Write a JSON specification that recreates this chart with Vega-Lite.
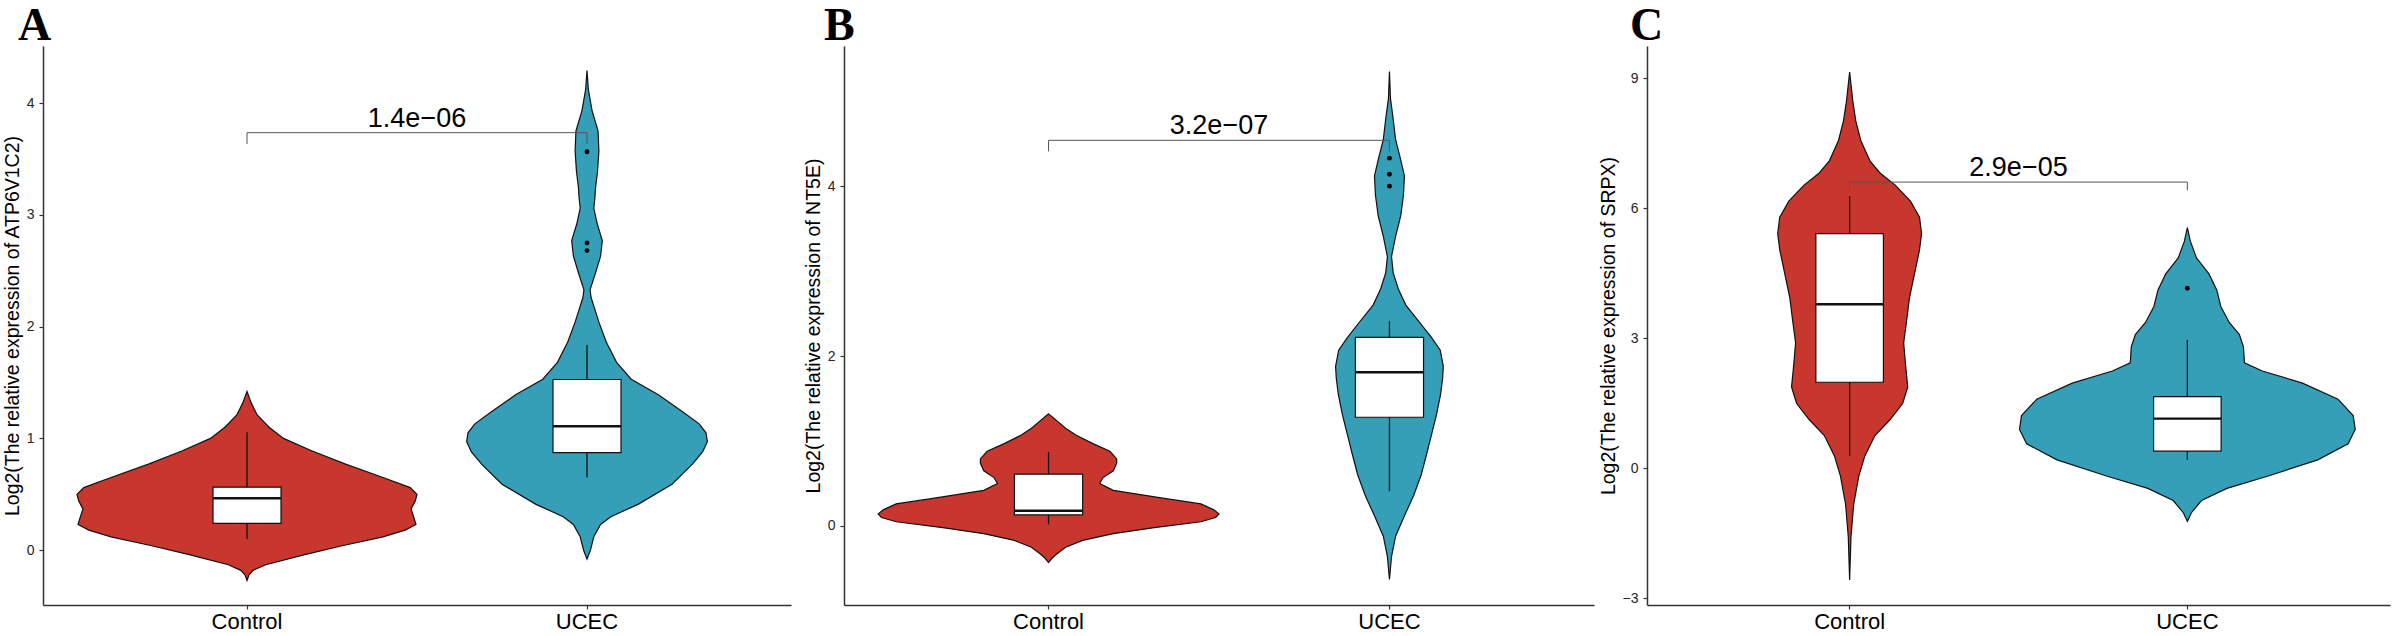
{
 "$schema": "https://vega.github.io/schema/vega-lite/v6.json",
 "padding": {"left": 2, "top": 3, "right": 2, "bottom": 0},
 "background": "white",
 "bounds": "flush",
 "spacing": 53,
 "datasets": {
  "violin": [
   {"panel":"A","group":"Control","y":-0.27,"w":0},
   {"panel":"A","group":"Control","y":-0.22,"w":0.012},
   {"panel":"A","group":"Control","y":-0.18,"w":0.036},
   {"panel":"A","group":"Control","y":-0.13,"w":0.11},
   {"panel":"A","group":"Control","y":-0.04,"w":0.34},
   {"panel":"A","group":"Control","y":0.04,"w":0.56},
   {"panel":"A","group":"Control","y":0.12,"w":0.8},
   {"panel":"A","group":"Control","y":0.18,"w":0.93},
   {"panel":"A","group":"Control","y":0.23,"w":0.994},
   {"panel":"A","group":"Control","y":0.3,"w":0.98},
   {"panel":"A","group":"Control","y":0.37,"w":0.965},
   {"panel":"A","group":"Control","y":0.44,"w":0.99},
   {"panel":"A","group":"Control","y":0.5,"w":1.0},
   {"panel":"A","group":"Control","y":0.56,"w":0.96},
   {"panel":"A","group":"Control","y":0.65,"w":0.8},
   {"panel":"A","group":"Control","y":0.77,"w":0.58},
   {"panel":"A","group":"Control","y":0.89,"w":0.38},
   {"panel":"A","group":"Control","y":1.0,"w":0.215},
   {"panel":"A","group":"Control","y":1.1,"w":0.13},
   {"panel":"A","group":"Control","y":1.21,"w":0.06},
   {"panel":"A","group":"Control","y":1.32,"w":0.024},
   {"panel":"A","group":"Control","y":1.42,"w":0},
   {"panel":"A","group":"UCEC","y":-0.08,"w":0},
   {"panel":"A","group":"UCEC","y":0.0,"w":0.02},
   {"panel":"A","group":"UCEC","y":0.12,"w":0.04},
   {"panel":"A","group":"UCEC","y":0.23,"w":0.08},
   {"panel":"A","group":"UCEC","y":0.3,"w":0.14},
   {"panel":"A","group":"UCEC","y":0.41,"w":0.3},
   {"panel":"A","group":"UCEC","y":0.59,"w":0.5},
   {"panel":"A","group":"UCEC","y":0.77,"w":0.62},
   {"panel":"A","group":"UCEC","y":0.88,"w":0.68},
   {"panel":"A","group":"UCEC","y":0.97,"w":0.708},
   {"panel":"A","group":"UCEC","y":1.05,"w":0.7},
   {"panel":"A","group":"UCEC","y":1.13,"w":0.66},
   {"panel":"A","group":"UCEC","y":1.24,"w":0.56},
   {"panel":"A","group":"UCEC","y":1.39,"w":0.42},
   {"panel":"A","group":"UCEC","y":1.53,"w":0.26},
   {"panel":"A","group":"UCEC","y":1.68,"w":0.174},
   {"panel":"A","group":"UCEC","y":1.86,"w":0.114},
   {"panel":"A","group":"UCEC","y":2.04,"w":0.07},
   {"panel":"A","group":"UCEC","y":2.26,"w":0.024},
   {"panel":"A","group":"UCEC","y":2.33,"w":0.018},
   {"panel":"A","group":"UCEC","y":2.48,"w":0.05},
   {"panel":"A","group":"UCEC","y":2.63,"w":0.08},
   {"panel":"A","group":"UCEC","y":2.77,"w":0.09},
   {"panel":"A","group":"UCEC","y":2.92,"w":0.06},
   {"panel":"A","group":"UCEC","y":3.06,"w":0.04},
   {"panel":"A","group":"UCEC","y":3.16,"w":0.047},
   {"panel":"A","group":"UCEC","y":3.24,"w":0.05},
   {"panel":"A","group":"UCEC","y":3.39,"w":0.062},
   {"panel":"A","group":"UCEC","y":3.57,"w":0.07},
   {"panel":"A","group":"UCEC","y":3.75,"w":0.065},
   {"panel":"A","group":"UCEC","y":3.93,"w":0.03},
   {"panel":"A","group":"UCEC","y":4.12,"w":0.008},
   {"panel":"A","group":"UCEC","y":4.29,"w":0},
   {"panel":"B","group":"Control","y":-0.43,"w":0},
   {"panel":"B","group":"Control","y":-0.38,"w":0.02},
   {"panel":"B","group":"Control","y":-0.33,"w":0.048},
   {"panel":"B","group":"Control","y":-0.25,"w":0.1},
   {"panel":"B","group":"Control","y":-0.17,"w":0.2},
   {"panel":"B","group":"Control","y":-0.09,"w":0.38},
   {"panel":"B","group":"Control","y":-0.02,"w":0.62},
   {"panel":"B","group":"Control","y":0.05,"w":0.894},
   {"panel":"B","group":"Control","y":0.1,"w":0.98},
   {"panel":"B","group":"Control","y":0.14,"w":1.0},
   {"panel":"B","group":"Control","y":0.19,"w":0.97},
   {"panel":"B","group":"Control","y":0.26,"w":0.894},
   {"panel":"B","group":"Control","y":0.33,"w":0.66},
   {"panel":"B","group":"Control","y":0.42,"w":0.38},
   {"panel":"B","group":"Control","y":0.5,"w":0.3},
   {"panel":"B","group":"Control","y":0.57,"w":0.32},
   {"panel":"B","group":"Control","y":0.65,"w":0.38},
   {"panel":"B","group":"Control","y":0.74,"w":0.4},
   {"panel":"B","group":"Control","y":0.79,"w":0.4},
   {"panel":"B","group":"Control","y":0.88,"w":0.36},
   {"panel":"B","group":"Control","y":0.97,"w":0.26},
   {"panel":"B","group":"Control","y":1.07,"w":0.16},
   {"panel":"B","group":"Control","y":1.15,"w":0.1},
   {"panel":"B","group":"Control","y":1.22,"w":0.06},
   {"panel":"B","group":"Control","y":1.28,"w":0.024},
   {"panel":"B","group":"Control","y":1.32,"w":0},
   {"panel":"B","group":"UCEC","y":-0.63,"w":0},
   {"panel":"B","group":"UCEC","y":-0.36,"w":0.012},
   {"panel":"B","group":"UCEC","y":-0.12,"w":0.036},
   {"panel":"B","group":"UCEC","y":0.12,"w":0.088},
   {"panel":"B","group":"UCEC","y":0.36,"w":0.142},
   {"panel":"B","group":"UCEC","y":0.6,"w":0.186},
   {"panel":"B","group":"UCEC","y":0.83,"w":0.216},
   {"panel":"B","group":"UCEC","y":1.07,"w":0.246},
   {"panel":"B","group":"UCEC","y":1.31,"w":0.276},
   {"panel":"B","group":"UCEC","y":1.55,"w":0.3},
   {"panel":"B","group":"UCEC","y":1.74,"w":0.312},
   {"panel":"B","group":"UCEC","y":1.88,"w":0.316},
   {"panel":"B","group":"UCEC","y":2.07,"w":0.298},
   {"panel":"B","group":"UCEC","y":2.22,"w":0.246},
   {"panel":"B","group":"UCEC","y":2.41,"w":0.172},
   {"panel":"B","group":"UCEC","y":2.6,"w":0.096},
   {"panel":"B","group":"UCEC","y":2.79,"w":0.052},
   {"panel":"B","group":"UCEC","y":2.98,"w":0.022},
   {"panel":"B","group":"UCEC","y":3.17,"w":0.012},
   {"panel":"B","group":"UCEC","y":3.41,"w":0.036},
   {"panel":"B","group":"UCEC","y":3.65,"w":0.066},
   {"panel":"B","group":"UCEC","y":3.89,"w":0.082},
   {"panel":"B","group":"UCEC","y":4.12,"w":0.088},
   {"panel":"B","group":"UCEC","y":4.31,"w":0.066},
   {"panel":"B","group":"UCEC","y":4.55,"w":0.036},
   {"panel":"B","group":"UCEC","y":4.79,"w":0.022},
   {"panel":"B","group":"UCEC","y":5.03,"w":0.006},
   {"panel":"B","group":"UCEC","y":5.35,"w":0},
   {"panel":"C","group":"Control","y":-2.58,"w":0},
   {"panel":"C","group":"Control","y":-1.59,"w":0.008},
   {"panel":"C","group":"Control","y":-0.84,"w":0.024},
   {"panel":"C","group":"Control","y":-0.19,"w":0.054},
   {"panel":"C","group":"Control","y":0.28,"w":0.09},
   {"panel":"C","group":"Control","y":0.75,"w":0.15},
   {"panel":"C","group":"Control","y":1.12,"w":0.24},
   {"panel":"C","group":"Control","y":1.49,"w":0.314},
   {"panel":"C","group":"Control","y":1.87,"w":0.344},
   {"panel":"C","group":"Control","y":2.43,"w":0.33},
   {"panel":"C","group":"Control","y":2.89,"w":0.32},
   {"panel":"C","group":"Control","y":3.36,"w":0.336},
   {"panel":"C","group":"Control","y":3.92,"w":0.354},
   {"panel":"C","group":"Control","y":4.48,"w":0.384},
   {"panel":"C","group":"Control","y":5.04,"w":0.414},
   {"panel":"C","group":"Control","y":5.41,"w":0.426},
   {"panel":"C","group":"Control","y":5.79,"w":0.414},
   {"panel":"C","group":"Control","y":6.16,"w":0.36},
   {"panel":"C","group":"Control","y":6.53,"w":0.27},
   {"panel":"C","group":"Control","y":6.81,"w":0.18},
   {"panel":"C","group":"Control","y":7.09,"w":0.12},
   {"panel":"C","group":"Control","y":7.56,"w":0.066},
   {"panel":"C","group":"Control","y":8.02,"w":0.036},
   {"panel":"C","group":"Control","y":8.49,"w":0.018},
   {"panel":"C","group":"Control","y":9.14,"w":0},
   {"panel":"C","group":"UCEC","y":-1.23,"w":0},
   {"panel":"C","group":"UCEC","y":-1.03,"w":0.024},
   {"panel":"C","group":"UCEC","y":-0.75,"w":0.084},
   {"panel":"C","group":"UCEC","y":-0.47,"w":0.234},
   {"panel":"C","group":"UCEC","y":-0.19,"w":0.474},
   {"panel":"C","group":"UCEC","y":0.19,"w":0.772},
   {"panel":"C","group":"UCEC","y":0.56,"w":0.952},
   {"panel":"C","group":"UCEC","y":0.89,"w":0.994},
   {"panel":"C","group":"UCEC","y":1.21,"w":0.982},
   {"panel":"C","group":"UCEC","y":1.59,"w":0.892},
   {"panel":"C","group":"UCEC","y":1.96,"w":0.682},
   {"panel":"C","group":"UCEC","y":2.24,"w":0.444},
   {"panel":"C","group":"UCEC","y":2.43,"w":0.338},
   {"panel":"C","group":"UCEC","y":2.8,"w":0.332},
   {"panel":"C","group":"UCEC","y":3.08,"w":0.308},
   {"panel":"C","group":"UCEC","y":3.36,"w":0.248},
   {"panel":"C","group":"UCEC","y":3.73,"w":0.198},
   {"panel":"C","group":"UCEC","y":4.11,"w":0.174},
   {"panel":"C","group":"UCEC","y":4.48,"w":0.128},
   {"panel":"C","group":"UCEC","y":4.85,"w":0.054},
   {"panel":"C","group":"UCEC","y":5.23,"w":0.018},
   {"panel":"C","group":"UCEC","y":5.55,"w":0}
  ],
  "box": [
   {"panel":"A","group":"Control","lo":0.10,"q1":0.24,"med":0.465,"q3":0.564,"hi":1.055},
   {"panel":"A","group":"UCEC","lo":0.65,"q1":0.873,"med":1.109,"q3":1.527,"hi":1.836},
   {"panel":"B","group":"Control","lo":0.02,"q1":0.13,"med":0.18,"q3":0.61,"hi":0.87},
   {"panel":"B","group":"UCEC","lo":0.41,"q1":1.28,"med":1.81,"q3":2.22,"hi":2.41},
   {"panel":"C","group":"Control","lo":0.28,"q1":1.98,"med":3.78,"q3":5.41,"hi":6.28},
   {"panel":"C","group":"UCEC","lo":0.19,"q1":0.39,"med":1.14,"q3":1.65,"hi":2.96}
  ],
  "outlier": [
   {"panel":"A","group":"UCEC","y":3.564},
   {"panel":"A","group":"UCEC","y":2.749},
   {"panel":"A","group":"UCEC","y":2.68},
   {"panel":"B","group":"UCEC","y":4.33},
   {"panel":"B","group":"UCEC","y":4.14},
   {"panel":"B","group":"UCEC","y":4.0},
   {"panel":"C","group":"UCEC","y":4.15}
  ],
  "bracket": [
   {"panel":"A","group":"Control","y":3.633,"k":1},
   {"panel":"A","group":"Control","y":3.735,"k":2},
   {"panel":"A","group":"UCEC","y":3.735,"k":3},
   {"panel":"A","group":"UCEC","y":3.633,"k":4},
   {"panel":"B","group":"Control","y":4.41,"k":1},
   {"panel":"B","group":"Control","y":4.54,"k":2},
   {"panel":"B","group":"UCEC","y":4.54,"k":3},
   {"panel":"B","group":"UCEC","y":4.41,"k":4},
   {"panel":"C","group":"Control","y":6.41,"k":1},
   {"panel":"C","group":"Control","y":6.6,"k":2},
   {"panel":"C","group":"UCEC","y":6.6,"k":3},
   {"panel":"C","group":"UCEC","y":6.41,"k":4}
  ],
  "plabel": [
   {"panel":"A","label":"1.4e−06","y":3.785},
   {"panel":"B","label":"3.2e−07","y":4.61},
   {"panel":"C","label":"2.9e−05","y":6.74}
  ]
 },
 "hconcat": [
  {
   "width": 748, "height": 559,
   "title": {"text": "A", "dx": -25},
   "layer": [
    {
     "data": {"name": "violin"},
     "transform": [{"filter": "datum.panel == 'A' && datum.group == 'Control'"}],
     "mark": {"type": "area", "orient": "horizontal", "fill": "#C8372D", "stroke": "#111111", "strokeWidth": 1.2, "opacity": 1},
     "encoding": {
      "y": {"field": "y", "type": "quantitative", "scale": {"domain": [-0.49, 4.51], "nice": false, "zero": false}, "axis": {"values": [0,1,2,3,4], "title": "Log2(The relative expression of ATP6V1C2)"}},
      "x": {"field": "w", "type": "quantitative", "stack": "center", "scale": {"domain": [-0.1, 2.1], "nice": false, "zero": false}, "axis": null}
     }
    },
    {
     "data": {"name": "violin"},
     "transform": [{"filter": "datum.panel == 'A' && datum.group == 'UCEC'"}],
     "mark": {"type": "area", "orient": "horizontal", "fill": "#359FB8", "stroke": "#111111", "strokeWidth": 1.2, "opacity": 1},
     "encoding": {
      "y": {"field": "y", "type": "quantitative", "scale": {"domain": [-0.49, 4.51], "nice": false, "zero": false}, "axis": {"values": [0,1,2,3,4], "title": "Log2(The relative expression of ATP6V1C2)"}},
      "x": {"field": "w", "type": "quantitative", "stack": "center", "scale": {"domain": [-1.246, 0.954], "nice": false, "zero": false}, "axis": null}
     }
    },
    {
     "layer": [
      {
       "data": {"name": "box"},
       "transform": [{"filter": "datum.panel == 'A'"}],
       "mark": {"type": "rule", "color": "#111111", "strokeWidth": 1.3},
       "encoding": {
        "x": {"field": "group", "type": "nominal", "scale": {"type": "band", "domain": ["Control","UCEC"], "paddingInner": 0.8, "paddingOuter": 0.5}, "axis": {"title": null}},
        "y": {"field": "lo", "type": "quantitative", "scale": {"domain": [-0.49, 4.51], "nice": false, "zero": false}, "axis": {"values": [0,1,2,3,4], "title": "Log2(The relative expression of ATP6V1C2)"}},
        "y2": {"field": "hi"}
       }
      },
      {
       "data": {"name": "box"},
       "transform": [{"filter": "datum.panel == 'A'"}],
       "mark": {"type": "bar", "fill": "white", "stroke": "#111111", "strokeWidth": 1.2},
       "encoding": {
        "x": {"field": "group", "type": "nominal", "scale": {"type": "band", "domain": ["Control","UCEC"], "paddingInner": 0.8, "paddingOuter": 0.5}, "axis": {"title": null}},
        "y": {"field": "q1", "type": "quantitative", "scale": {"domain": [-0.49, 4.51], "nice": false, "zero": false}, "axis": {"values": [0,1,2,3,4], "title": "Log2(The relative expression of ATP6V1C2)"}},
        "y2": {"field": "q3"}
       }
      },
      {
       "data": {"name": "box"},
       "transform": [{"filter": "datum.panel == 'A'"}],
       "mark": {"type": "bar", "fill": "#111111", "stroke": "#111111", "strokeWidth": 2.4},
       "encoding": {
        "x": {"field": "group", "type": "nominal", "scale": {"type": "band", "domain": ["Control","UCEC"], "paddingInner": 0.8, "paddingOuter": 0.5}, "axis": {"title": null}},
        "y": {"field": "med", "type": "quantitative", "scale": {"domain": [-0.49, 4.51], "nice": false, "zero": false}, "axis": {"values": [0,1,2,3,4], "title": "Log2(The relative expression of ATP6V1C2)"}},
        "y2": {"field": "med"}
       }
      },
      {
       "data": {"name": "outlier"},
       "transform": [{"filter": "datum.panel == 'A'"}],
       "mark": {"type": "circle", "color": "#000000", "size": 24, "opacity": 1},
       "encoding": {
        "x": {"field": "group", "type": "nominal", "scale": {"type": "band", "domain": ["Control","UCEC"], "paddingInner": 0.8, "paddingOuter": 0.5}, "axis": {"title": null}},
        "y": {"field": "y", "type": "quantitative", "scale": {"domain": [-0.49, 4.51], "nice": false, "zero": false}, "axis": {"values": [0,1,2,3,4], "title": "Log2(The relative expression of ATP6V1C2)"}}
       }
      },
      {
       "data": {"name": "bracket"},
       "transform": [{"filter": "datum.panel == 'A'"}],
       "mark": {"type": "line", "color": "#555555", "strokeWidth": 1},
       "encoding": {
        "x": {"field": "group", "type": "nominal", "scale": {"type": "band", "domain": ["Control","UCEC"], "paddingInner": 0.8, "paddingOuter": 0.5}, "axis": {"title": null}},
        "y": {"field": "y", "type": "quantitative", "scale": {"domain": [-0.49, 4.51], "nice": false, "zero": false}, "axis": {"values": [0,1,2,3,4], "title": "Log2(The relative expression of ATP6V1C2)"}},
        "order": {"field": "k", "type": "quantitative"}
       }
      }
     ]
    },
    {
     "data": {"name": "plabel"},
     "transform": [{"filter": "datum.panel == 'A'"}],
     "mark": {"type": "text", "font": "Liberation Sans", "fontSize": 27, "baseline": "alphabetic", "align": "center", "color": "#000000"},
     "encoding": {
      "x": {"field": "label", "type": "nominal", "scale": {"type": "point", "domain": ["Control","1.4e−06","UCEC"], "padding": 1.2}, "axis": null},
      "y": {"field": "y", "type": "quantitative", "scale": {"domain": [-0.49, 4.51], "nice": false, "zero": false}, "axis": {"values": [0,1,2,3,4], "title": "Log2(The relative expression of ATP6V1C2)"}},
      "text": {"field": "label"}
     }
    }
   ],
   "resolve": {"scale": {"x": "independent"}}
  },
  {
   "width": 750, "height": 559,
   "title": {"text": "B", "dx": -20},
   "layer": [
    {
     "data": {"name": "violin"},
     "transform": [{"filter": "datum.panel == 'B' && datum.group == 'Control'"}],
     "mark": {"type": "area", "orient": "horizontal", "fill": "#C8372D", "stroke": "#111111", "strokeWidth": 1.2, "opacity": 1},
     "encoding": {
      "y": {"field": "y", "type": "quantitative", "scale": {"domain": [-0.93, 5.65], "nice": false, "zero": false}, "axis": {"values": [0,2,4], "title": "Log2(The relative expression of NT5E)"}},
      "x": {"field": "w", "type": "quantitative", "stack": "center", "scale": {"domain": [-0.1, 2.1], "nice": false, "zero": false}, "axis": null}
     }
    },
    {
     "data": {"name": "violin"},
     "transform": [{"filter": "datum.panel == 'B' && datum.group == 'UCEC'"}],
     "mark": {"type": "area", "orient": "horizontal", "fill": "#359FB8", "stroke": "#111111", "strokeWidth": 1.2, "opacity": 1},
     "encoding": {
      "y": {"field": "y", "type": "quantitative", "scale": {"domain": [-0.93, 5.65], "nice": false, "zero": false}, "axis": {"values": [0,2,4], "title": "Log2(The relative expression of NT5E)"}},
      "x": {"field": "w", "type": "quantitative", "stack": "center", "scale": {"domain": [-1.442, 0.758], "nice": false, "zero": false}, "axis": null}
     }
    },
    {
     "layer": [
      {
       "data": {"name": "box"},
       "transform": [{"filter": "datum.panel == 'B'"}],
       "mark": {"type": "rule", "color": "#111111", "strokeWidth": 1.3},
       "encoding": {
        "x": {"field": "group", "type": "nominal", "scale": {"type": "band", "domain": ["Control","UCEC"], "paddingInner": 0.8, "paddingOuter": 0.5}, "axis": {"title": null}},
        "y": {"field": "lo", "type": "quantitative", "scale": {"domain": [-0.93, 5.65], "nice": false, "zero": false}, "axis": {"values": [0,2,4], "title": "Log2(The relative expression of NT5E)"}},
        "y2": {"field": "hi"}
       }
      },
      {
       "data": {"name": "box"},
       "transform": [{"filter": "datum.panel == 'B'"}],
       "mark": {"type": "bar", "fill": "white", "stroke": "#111111", "strokeWidth": 1.2},
       "encoding": {
        "x": {"field": "group", "type": "nominal", "scale": {"type": "band", "domain": ["Control","UCEC"], "paddingInner": 0.8, "paddingOuter": 0.5}, "axis": {"title": null}},
        "y": {"field": "q1", "type": "quantitative", "scale": {"domain": [-0.93, 5.65], "nice": false, "zero": false}, "axis": {"values": [0,2,4], "title": "Log2(The relative expression of NT5E)"}},
        "y2": {"field": "q3"}
       }
      },
      {
       "data": {"name": "box"},
       "transform": [{"filter": "datum.panel == 'B'"}],
       "mark": {"type": "bar", "fill": "#111111", "stroke": "#111111", "strokeWidth": 2.4},
       "encoding": {
        "x": {"field": "group", "type": "nominal", "scale": {"type": "band", "domain": ["Control","UCEC"], "paddingInner": 0.8, "paddingOuter": 0.5}, "axis": {"title": null}},
        "y": {"field": "med", "type": "quantitative", "scale": {"domain": [-0.93, 5.65], "nice": false, "zero": false}, "axis": {"values": [0,2,4], "title": "Log2(The relative expression of NT5E)"}},
        "y2": {"field": "med"}
       }
      },
      {
       "data": {"name": "outlier"},
       "transform": [{"filter": "datum.panel == 'B'"}],
       "mark": {"type": "circle", "color": "#000000", "size": 24, "opacity": 1},
       "encoding": {
        "x": {"field": "group", "type": "nominal", "scale": {"type": "band", "domain": ["Control","UCEC"], "paddingInner": 0.8, "paddingOuter": 0.5}, "axis": {"title": null}},
        "y": {"field": "y", "type": "quantitative", "scale": {"domain": [-0.93, 5.65], "nice": false, "zero": false}, "axis": {"values": [0,2,4], "title": "Log2(The relative expression of NT5E)"}}
       }
      },
      {
       "data": {"name": "bracket"},
       "transform": [{"filter": "datum.panel == 'B'"}],
       "mark": {"type": "line", "color": "#555555", "strokeWidth": 1},
       "encoding": {
        "x": {"field": "group", "type": "nominal", "scale": {"type": "band", "domain": ["Control","UCEC"], "paddingInner": 0.8, "paddingOuter": 0.5}, "axis": {"title": null}},
        "y": {"field": "y", "type": "quantitative", "scale": {"domain": [-0.93, 5.65], "nice": false, "zero": false}, "axis": {"values": [0,2,4], "title": "Log2(The relative expression of NT5E)"}},
        "order": {"field": "k", "type": "quantitative"}
       }
      }
     ]
    },
    {
     "data": {"name": "plabel"},
     "transform": [{"filter": "datum.panel == 'B'"}],
     "mark": {"type": "text", "font": "Liberation Sans", "fontSize": 27, "baseline": "alphabetic", "align": "center", "color": "#000000"},
     "encoding": {
      "x": {"field": "label", "type": "nominal", "scale": {"type": "point", "domain": ["Control","3.2e−07","UCEC"], "padding": 1.2}, "axis": null},
      "y": {"field": "y", "type": "quantitative", "scale": {"domain": [-0.93, 5.65], "nice": false, "zero": false}, "axis": {"values": [0,2,4], "title": "Log2(The relative expression of NT5E)"}},
      "text": {"field": "label"}
     }
    }
   ],
   "resolve": {"scale": {"x": "independent"}}
  },
  {
   "width": 743, "height": 559,
   "title": {"text": "C", "dx": -17},
   "layer": [
    {
     "data": {"name": "violin"},
     "transform": [{"filter": "datum.panel == 'C' && datum.group == 'Control'"}],
     "mark": {"type": "area", "orient": "horizontal", "fill": "#C8372D", "stroke": "#111111", "strokeWidth": 1.2, "opacity": 1},
     "encoding": {
      "y": {"field": "y", "type": "quantitative", "scale": {"domain": [-3.16, 9.74], "nice": false, "zero": false}, "axis": {"values": [-3,0,3,6,9], "title": "Log2(The relative expression of SRPX)"}},
      "x": {"field": "w", "type": "quantitative", "stack": "center", "scale": {"domain": [-0.387, 1.813], "nice": false, "zero": false}, "axis": null}
     }
    },
    {
     "data": {"name": "violin"},
     "transform": [{"filter": "datum.panel == 'C' && datum.group == 'UCEC'"}],
     "mark": {"type": "area", "orient": "horizontal", "fill": "#359FB8", "stroke": "#111111", "strokeWidth": 1.2, "opacity": 1},
     "encoding": {
      "y": {"field": "y", "type": "quantitative", "scale": {"domain": [-3.16, 9.74], "nice": false, "zero": false}, "axis": {"values": [-3,0,3,6,9], "title": "Log2(The relative expression of SRPX)"}},
      "x": {"field": "w", "type": "quantitative", "stack": "center", "scale": {"domain": [-1.103, 1.097], "nice": false, "zero": false}, "axis": null}
     }
    },
    {
     "layer": [
      {
       "data": {"name": "box"},
       "transform": [{"filter": "datum.panel == 'C'"}],
       "mark": {"type": "rule", "color": "#111111", "strokeWidth": 1.3},
       "encoding": {
        "x": {"field": "group", "type": "nominal", "scale": {"type": "band", "domain": ["Control","UCEC"], "paddingInner": 0.8, "paddingOuter": 0.5}, "axis": {"title": null}},
        "y": {"field": "lo", "type": "quantitative", "scale": {"domain": [-3.16, 9.74], "nice": false, "zero": false}, "axis": {"values": [-3,0,3,6,9], "title": "Log2(The relative expression of SRPX)"}},
        "y2": {"field": "hi"}
       }
      },
      {
       "data": {"name": "box"},
       "transform": [{"filter": "datum.panel == 'C'"}],
       "mark": {"type": "bar", "fill": "white", "stroke": "#111111", "strokeWidth": 1.2},
       "encoding": {
        "x": {"field": "group", "type": "nominal", "scale": {"type": "band", "domain": ["Control","UCEC"], "paddingInner": 0.8, "paddingOuter": 0.5}, "axis": {"title": null}},
        "y": {"field": "q1", "type": "quantitative", "scale": {"domain": [-3.16, 9.74], "nice": false, "zero": false}, "axis": {"values": [-3,0,3,6,9], "title": "Log2(The relative expression of SRPX)"}},
        "y2": {"field": "q3"}
       }
      },
      {
       "data": {"name": "box"},
       "transform": [{"filter": "datum.panel == 'C'"}],
       "mark": {"type": "bar", "fill": "#111111", "stroke": "#111111", "strokeWidth": 2.4},
       "encoding": {
        "x": {"field": "group", "type": "nominal", "scale": {"type": "band", "domain": ["Control","UCEC"], "paddingInner": 0.8, "paddingOuter": 0.5}, "axis": {"title": null}},
        "y": {"field": "med", "type": "quantitative", "scale": {"domain": [-3.16, 9.74], "nice": false, "zero": false}, "axis": {"values": [-3,0,3,6,9], "title": "Log2(The relative expression of SRPX)"}},
        "y2": {"field": "med"}
       }
      },
      {
       "data": {"name": "outlier"},
       "transform": [{"filter": "datum.panel == 'C'"}],
       "mark": {"type": "circle", "color": "#000000", "size": 24, "opacity": 1},
       "encoding": {
        "x": {"field": "group", "type": "nominal", "scale": {"type": "band", "domain": ["Control","UCEC"], "paddingInner": 0.8, "paddingOuter": 0.5}, "axis": {"title": null}},
        "y": {"field": "y", "type": "quantitative", "scale": {"domain": [-3.16, 9.74], "nice": false, "zero": false}, "axis": {"values": [-3,0,3,6,9], "title": "Log2(The relative expression of SRPX)"}}
       }
      },
      {
       "data": {"name": "bracket"},
       "transform": [{"filter": "datum.panel == 'C'"}],
       "mark": {"type": "line", "color": "#555555", "strokeWidth": 1},
       "encoding": {
        "x": {"field": "group", "type": "nominal", "scale": {"type": "band", "domain": ["Control","UCEC"], "paddingInner": 0.8, "paddingOuter": 0.5}, "axis": {"title": null}},
        "y": {"field": "y", "type": "quantitative", "scale": {"domain": [-3.16, 9.74], "nice": false, "zero": false}, "axis": {"values": [-3,0,3,6,9], "title": "Log2(The relative expression of SRPX)"}},
        "order": {"field": "k", "type": "quantitative"}
       }
      }
     ]
    },
    {
     "data": {"name": "plabel"},
     "transform": [{"filter": "datum.panel == 'C'"}],
     "mark": {"type": "text", "font": "Liberation Sans", "fontSize": 27, "baseline": "alphabetic", "align": "center", "color": "#000000"},
     "encoding": {
      "x": {"field": "label", "type": "nominal", "scale": {"type": "point", "domain": ["Control","2.9e−05","UCEC"], "padding": 1.2}, "axis": null},
      "y": {"field": "y", "type": "quantitative", "scale": {"domain": [-3.16, 9.74], "nice": false, "zero": false}, "axis": {"values": [-3,0,3,6,9], "title": "Log2(The relative expression of SRPX)"}},
      "text": {"field": "label"}
     }
    }
   ],
   "resolve": {"scale": {"x": "independent"}}
  }
 ],
 "config": {
  "view": {"stroke": null},
  "axis": {"grid": false, "domainColor": "#333333", "domainWidth": 1.5, "tickColor": "#333333", "tickWidth": 1.2, "tickSize": 4, "labelFont": "Liberation Sans", "labelColor": "#262626", "titleFont": "Liberation Sans", "titleColor": "#000000", "titleFontWeight": "normal"},
  "axisY": {"labelFontSize": 14, "labelPadding": 5, "titleFontSize": 19.5, "titlePadding": 4},
  "axisX": {"labelFontSize": 22, "labelPadding": 2, "labelAngle": 0, "labelColor": "#000000"},
  "title": {"anchor": "start", "frame": "group", "font": "Liberation Serif", "fontSize": 46, "fontWeight": "bold", "color": "#000000", "baseline": "top", "offset": -4}
 }
}
